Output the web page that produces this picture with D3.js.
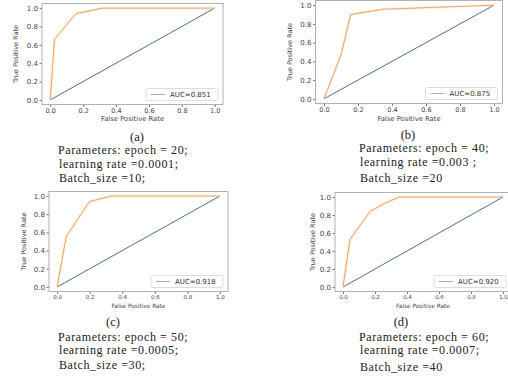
<!DOCTYPE html>
<html>
<head>
<meta charset="utf-8">
<script src="https://cdn.jsdelivr.net/npm/d3@7"></script>
<style>
  body { margin: 0; background: #fff; }
  svg { display: block; }
</style>
</head>
<body>
<svg id="chart" width="508" height="381"></svg>
<script>
// ROC points
const fprA = [0, 0.026, 0.156, 0.32, 1];
const tprA = [0, 0.66, 0.94, 1, 1];
const fprB = [0, 0.10, 0.157, 0.35, 1];
const tprB = [0, 0.47, 0.90, 0.957, 1];
const fprC = [0, 0.055, 0.198, 0.335, 1];
const tprC = [0, 0.55, 0.94, 1, 1];
const fprD = [0, 0.044, 0.169, 0.26, 0.35, 1];
const tprD = [0, 0.53, 0.84, 0.93, 1, 1];

const aucLabels = ["AUC=0.851", "AUC=0.875", "AUC=0.918", "AUC=0.920"];
const panelTags = ["(a)", "(b)", "(c)", "(d)"];
const paramLines = [
  ["Parameters: epoch = 20;", "learning rate =0.0001;", "Batch_size =10;"],
  ["Parameters: epoch = 40;", "learning rate =0.003 ;", "Batch_size =20"],
  ["Parameters: epoch = 50;", "learning rate =0.0005;", "Batch_size =30;"],
  ["Parameters: epoch = 60;", "learning rate =0.0007;", "Batch_size =40"]
];
const ticks = [0, 0.2, 0.4, 0.6, 0.8, 1.0];

// layout of each panel: axes frame, label positions, caption positions
const layout = [
  { l: 42, r: 223, t: 3.5, b: 104.5, ylabX: 16, xtick: 6.5, xlabY: 121, tagX: 137, tagY: 141, capX: 58, capY: [154, 168, 182] },
  { l: 315.5, r: 502.5, t: 0.5, b: 103.5, ylabX: 290, xtick: 6.5, xlabY: 120.5, tagX: 408, tagY: 139, capX: 359, capY: [152, 166, 182] },
  { l: 49, r: 228, t: 191.5, b: 291.5, ylabX: 24, xtick: 5.5, xlabY: 308, tagX: 113, tagY: 326, capX: 58, capY: [341, 354, 369] },
  { l: 335, r: 511, t: 192.5, b: 291.5, ylabX: 313, xtick: 5.5, xlabY: 308, tagX: 401, tagY: 326, capX: 359, capY: [341, 354, 371] }
];

const series = [
  fprA.map((f, i) => ({ x: f, y: tprA[i] })),
  fprB.map((f, i) => ({ x: f, y: tprB[i] })),
  fprC.map((f, i) => ({ x: f, y: tprC[i] })),
  fprD.map((f, i) => ({ x: f, y: tprD[i] }))
];

const svg = d3.select("#chart");
const fmt = d3.format(".1f");

layout.forEach((p, k) => {
  const x = d3.scaleLinear().domain([-0.05, 1.05]).range([p.l, p.r]);
  const y = d3.scaleLinear().domain([-0.05, 1.05]).range([p.b, p.t]);
  const g = svg.append("g");

  // x axis
  const xAxis = g.append("g")
    .attr("transform", "translate(0," + p.b + ")")
    .call(d3.axisBottom(x).tickValues(ticks).tickFormat(fmt).tickSize(2.5).tickPadding(1));
  xAxis.select(".domain").remove();
  xAxis.selectAll("line").attr("stroke", "#777");
  xAxis.selectAll("text").attr("fill", "#444")
    .style("font-family", "DejaVu Sans").style("font-size", p.xtick + "px");

  // y axis
  const yAxis = g.append("g")
    .attr("transform", "translate(" + p.l + ",0)")
    .call(d3.axisLeft(y).tickValues(ticks).tickFormat(fmt).tickSize(2.5).tickPadding(1.5));
  yAxis.select(".domain").remove();
  yAxis.selectAll("line").attr("stroke", "#777");
  yAxis.selectAll("text").attr("fill", "#444")
    .style("font-family", "DejaVu Sans").style("font-size", "7px");

  // frame
  g.append("rect")
    .attr("x", p.l).attr("y", p.t)
    .attr("width", p.r - p.l).attr("height", p.b - p.t)
    .attr("fill", "none").attr("stroke", "#aaa").attr("stroke-width", 0.9);

  // axis labels
  g.append("text")
    .attr("x", (p.l + p.r) / 2)
    .attr("y", p.xlabY)
    .attr("text-anchor", "middle")
    .attr("fill", "#444")
    .style("font-family", "DejaVu Sans").style("font-size", (p.xtick + 0.3) + "px")
    .text("False Positive Rate");

  g.append("text")
    .attr("transform", "translate(" + p.ylabX + "," + (p.t + p.b) / 2 + ") rotate(-90)")
    .attr("text-anchor", "middle")
    .attr("dy", "0.35em")
    .attr("fill", "#444")
    .style("font-family", "DejaVu Sans").style("font-size", "6.5px")
    .text("True Positive Rate");

  // chance diagonal
  g.append("path")
    .datum([{ x: 0, y: 0 }, { x: 1, y: 1 }])
    .attr("fill", "none")
    .attr("stroke", "#4b6f93")
    .attr("stroke-width", 1)
    .attr("d", d3.line().x(d => x(d.x)).y(d => y(d.y)));

  // roc curve, soft halo then line
  const line = d3.line().x(d => x(d.x)).y(d => y(d.y));
  g.append("path")
    .datum(series[k])
    .attr("fill", "none")
    .attr("stroke", "#f8d7b5")
    .attr("stroke-width", 3)
    .attr("opacity", 0.35)
    .attr("d", line);
  g.append("path")
    .datum(series[k])
    .attr("fill", "none")
    .attr("stroke", "#f0a466")
    .attr("stroke-width", 1)
    .attr("d", line);

  // legend
  const lw = 72, lh = 12;
  const lx = p.r - 5 - lw, ly = p.b - 4 - lh;
  g.append("rect")
    .attr("x", lx).attr("y", ly)
    .attr("width", lw).attr("height", lh)
    .attr("rx", 1.5)
    .attr("fill", "#fff").attr("stroke", "#d4d4d4").attr("stroke-width", 0.8);
  g.append("line")
    .attr("x1", lx + 5).attr("x2", lx + 19)
    .attr("y1", ly + lh / 2).attr("y2", ly + lh / 2)
    .attr("stroke", "#a5acd6").attr("stroke-width", 1);
  g.append("text")
    .attr("x", lx + 24).attr("y", ly + lh / 2)
    .attr("dy", "0.35em")
    .attr("fill", "#333")
    .style("font-family", "DejaVu Sans").style("font-size", "7px")
    .text(aucLabels[k]);

  // caption
  g.append("text")
    .attr("x", p.tagX).attr("y", p.tagY)
    .attr("text-anchor", "middle")
    .attr("fill", "#222")
    .style("font-family", "Liberation Serif").style("font-size", "12.5px")
    .text(panelTags[k]);

  paramLines[k].forEach((s, i) => {
    g.append("text")
      .attr("x", p.capX + (i === 0 ? 0 : 1))
      .attr("y", p.capY[i])
      .attr("fill", "#222")
      .style("font-family", "Liberation Serif").style("font-size", "12px")
      .style("letter-spacing", "0.6px")
      .text(s);
  });
});
</script>
</body>
</html>
